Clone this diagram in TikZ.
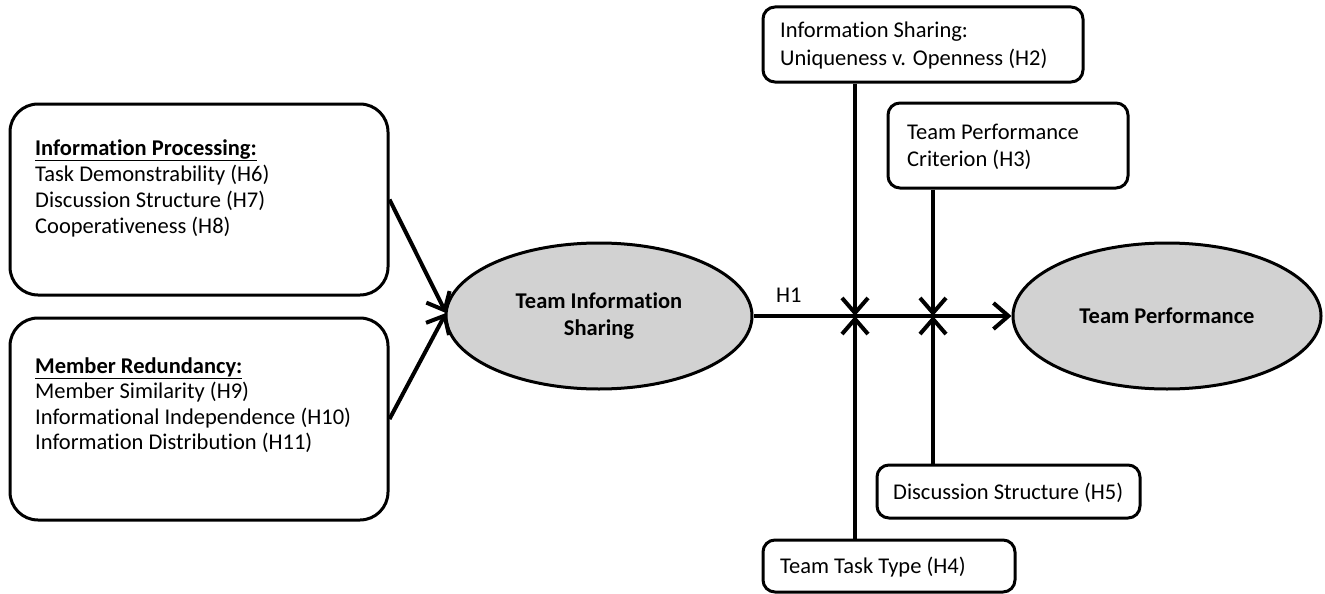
\documentclass[tikz,border=0pt]{standalone}
\usepackage{fontspec}
\setmainfont{Carlito}[Ligatures=NoCommon]
\usetikzlibrary{arrows.meta,shapes.geometric}
\definecolor{ovalgray}{RGB}{210,210,210}
\begin{document}
\begin{tikzpicture}[x=1pt,y=-1pt,
  bigbox/.style={draw,line width=3pt,rounded corners=28pt,inner sep=0pt},
  smallbox/.style={draw,line width=3pt,rounded corners=12pt,inner sep=0pt},
  oval/.style={draw,ellipse,line width=3pt,fill=ovalgray,inner sep=0pt,
    font=\fontsize{22.5}{27}\selectfont\bfseries,align=center},
  link/.style={line width=4pt,-{Straight Barb[length=15pt,width=26pt]}},
  txt/.style={font=\fontsize{22.5}{26}\selectfont,align=left,inner sep=0pt,anchor=west}
]
\useasboundingbox[fill=white] (0,0) rectangle (1325,594);
% left boxes
\node[bigbox,minimum width=378pt,minimum height=191pt] (ip) at (199,199.5) {};
\node[txt] (iptext) at (35,188) {\underline{\textbf{Information Processing:}}\\Task Demonstrability (H6)\\Discussion Structure (H7)\\Cooperativeness (H8)};
\node[bigbox,minimum width=378pt,minimum height=202pt] (mr) at (199,419) {};
\node[txt,font=\fontsize{22.5}{25.5}\selectfont] (mrtext) at (35,405) {\underline{\textbf{Member Redundancy:}}\\Member Similarity (H9)\\Informational Independence (H10)\\Information Distribution (H11)};
% ellipses
\node[oval,minimum width=306pt,minimum height=146pt] (tis) at (599,316) {Team Information\\Sharing};
\node[oval,minimum width=308pt,minimum height=146pt] (tp) at (1167,316) {Team Performance};
% moderator boxes
\node[smallbox,minimum width=320pt,minimum height=75pt] (h2) at (923,44.5) {};
\node[txt,font=\fontsize{22.5}{28}\selectfont] (h2text) at (780,46) {Information Sharing:\\Uniqueness v. Openness (H2)};
\node[smallbox,minimum width=240pt,minimum height=85pt] (h3) at (1008,145.5) {};
\node[txt,font=\fontsize{22.5}{27}\selectfont] (h3text) at (907,146.5) {Team Performance\\Criterion (H3)};
\node[smallbox,minimum width=263pt,minimum height=53pt] (h5) at (1008.5,491.5) {};
\node[txt] (h5text) at (893,493) {Discussion Structure (H5)};
\node[smallbox,minimum width=252pt,minimum height=52pt] (h4) at (889,566) {};
\node[txt] (h4text) at (780,567) {Team Task Type (H4)};
% junctions
\coordinate (j1) at (855,316);
\coordinate (j2) at (933,316);
\coordinate (tin) at (446,313);
% connectors
\draw[link] (ip.east) -- (tin);
\draw[link] (mr.east) -- (tin);
\draw[link] (tis.east) -- (tp.west);
\node[txt] (h1) at (776,295) {H1};
\draw[link] (h2.south -| j1) -- (j1);
\draw[link] (h4.north -| j1) -- (j1);
\draw[link] (h3.south -| j2) -- (j2);
\draw[link] (h5.north -| j2) -- (j2);
\end{tikzpicture}
\end{document}
